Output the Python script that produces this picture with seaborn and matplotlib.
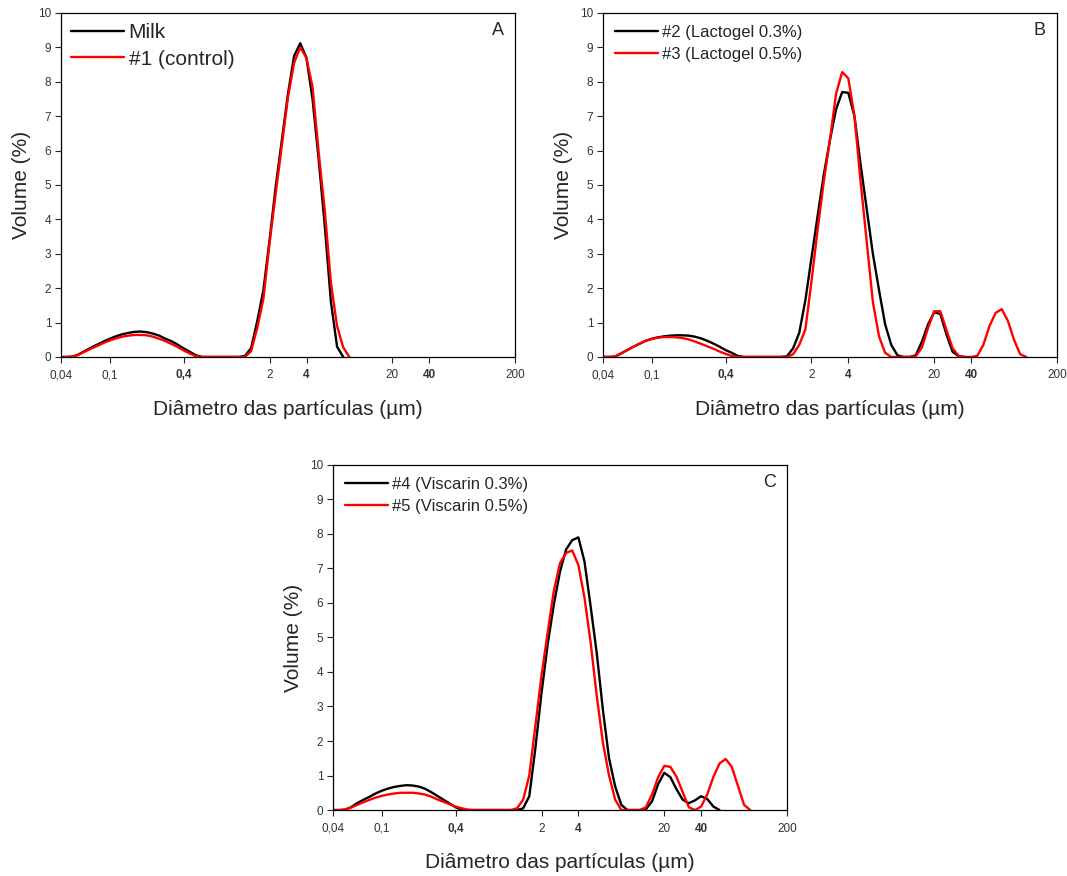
import matplotlib
matplotlib.use("Agg")
import matplotlib.pyplot as plt
import seaborn as sns
import pandas as pd
from matplotlib.ticker import NullLocator

sns.set_theme(style="ticks")
plt.rcParams["font.family"] = ["Liberation Sans", "DejaVu Sans"]

BLACK = "#000000"
RED = "#ff0000"

# instrument size classes (um)
DIAM = [0.040, 0.045, 0.050, 0.056, 0.063, 0.071, 0.080, 0.089, 0.100, 0.112,
        0.126, 0.142, 0.159, 0.178, 0.200, 0.224, 0.252, 0.283, 0.317, 0.356,
        0.399, 0.448, 0.502, 0.564, 0.632, 0.710, 0.796, 0.893, 1.002, 1.125,
        1.262, 1.416, 1.589, 1.783, 2.000, 2.244, 2.518, 2.825, 3.170, 3.557,
        3.991, 4.477, 5.024, 5.637, 6.325, 7.096, 7.962, 8.934, 10.024, 11.247,
        12.619, 14.159, 15.887, 17.825, 20.000, 22.440, 25.179, 28.251, 31.698, 35.566,
        39.905, 44.774, 50.238, 56.368, 63.246, 70.963, 79.621, 89.337, 100.237, 112.468]

# volume (%) per size class
MILK = [0, 0, 0.01, 0.08, 0.18, 0.28, 0.37, 0.45, 0.53, 0.60,
        0.66, 0.70, 0.73, 0.74, 0.72, 0.68, 0.62, 0.53, 0.46, 0.36,
        0.25, 0.15, 0.05, 0, 0, 0, 0, 0, 0, 0,
        0.03, 0.26, 1.05, 1.95, 3.40, 4.95, 6.30, 7.65, 8.75, 9.12,
        8.70, 7.50, 5.75, 3.80, 1.60, 0.30, 0]
CONTROL = [0, 0, 0.01, 0.07, 0.16, 0.25, 0.33, 0.41, 0.48, 0.54,
           0.59, 0.62, 0.64, 0.64, 0.63, 0.59, 0.53, 0.46, 0.38, 0.29,
           0.19, 0.10, 0.02, 0, 0, 0, 0, 0, 0, 0,
           0, 0.17, 0.85, 1.70, 3.30, 4.75, 6.15, 7.55, 8.55, 9.00,
           8.70, 7.85, 5.95, 4.25, 2.15, 0.90, 0.28, 0]
LACT_03 = [0, 0, 0.01, 0.10, 0.20, 0.30, 0.39, 0.47, 0.53, 0.57,
           0.60, 0.62, 0.63, 0.63, 0.62, 0.59, 0.54, 0.47, 0.39, 0.30,
           0.20, 0.12, 0.03, 0, 0, 0, 0, 0, 0, 0,
           0.02, 0.25, 0.70, 1.65, 2.88, 4.10, 5.30, 6.30, 7.20, 7.70,
           7.68, 7.00, 5.60, 4.30, 3.00, 1.95, 0.95, 0.35, 0.05, 0,
           0, 0.05, 0.45, 0.95, 1.30, 1.25, 0.65, 0.15, 0.02, 0]
LACT_05 = [0, 0, 0.01, 0.10, 0.20, 0.30, 0.39, 0.47, 0.52, 0.56,
           0.58, 0.58, 0.57, 0.55, 0.51, 0.45, 0.38, 0.31, 0.24, 0.16,
           0.09, 0.03, 0, 0, 0, 0, 0, 0, 0, 0,
           0, 0.08, 0.35, 0.80, 2.20, 3.70, 5.10, 6.30, 7.65, 8.28,
           8.10, 7.00, 5.10, 3.35, 1.60, 0.60, 0.12, 0, 0, 0,
           0, 0.02, 0.28, 0.85, 1.33, 1.33, 0.78, 0.25, 0.03, 0,
           0, 0.03, 0.35, 0.90, 1.28, 1.39, 1.05, 0.50, 0.08, 0]
VISC_03 = [0, 0, 0.01, 0.08, 0.20, 0.30, 0.39, 0.48, 0.56, 0.62,
           0.67, 0.70, 0.72, 0.71, 0.68, 0.62, 0.52, 0.41, 0.30, 0.19,
           0.08, 0.01, 0, 0, 0, 0, 0, 0, 0, 0,
           0, 0.05, 0.40, 1.80, 3.40, 4.80, 5.95, 6.90, 7.55, 7.82,
           7.90, 7.20, 5.90, 4.54, 2.90, 1.50, 0.68, 0.15, 0, 0,
           0, 0.02, 0.25, 0.75, 1.08, 0.95, 0.60, 0.30, 0.20, 0.28,
           0.40, 0.32, 0.10, 0]
VISC_05 = [0, 0, 0.01, 0.07, 0.15, 0.23, 0.30, 0.36, 0.41, 0.45,
           0.48, 0.50, 0.50, 0.50, 0.48, 0.45, 0.39, 0.31, 0.24, 0.17,
           0.10, 0.05, 0.01, 0, 0, 0, 0, 0, 0, 0,
           0.05, 0.30, 1.00, 2.45, 3.90, 5.15, 6.35, 7.15, 7.45, 7.52,
           7.10, 6.15, 4.85, 3.30, 1.95, 1.00, 0.30, 0, 0, 0,
           0, 0.08, 0.45, 0.95, 1.28, 1.25, 0.96, 0.52, 0.08, 0,
           0.10, 0.45, 0.96, 1.35, 1.48, 1.25, 0.70, 0.15, 0]

XTICKS = [0.04, 0.1, 0.4, 2, 4, 20, 40, 200]
XTICK_LABELS = ["0,04", "0,1", "0,4", "2", "4", "20", "40", "200"]
BOLD_TICKS = {"0,4", "4", "40"}

# letter, axes rect, series, legend options
PANELS = [
    ("A", [0.0572, 0.5925, 0.4255, 0.3927],
     [("Milk", MILK, BLACK), ("#1 (control)", CONTROL, RED)],
     dict(fontsize=15, handlelength=2.5, labelspacing=0.35, borderaxespad=0.1)),
    ("B", [0.5651, 0.5925, 0.4255, 0.3927],
     [("#2 (Lactogel 0.3%)", LACT_03, BLACK), ("#3 (Lactogel 0.5%)", LACT_05, RED)],
     dict(fontsize=12, handlelength=2.6, labelspacing=0.45, borderaxespad=0.3)),
    ("C", [0.3121, 0.0753, 0.4255, 0.3940],
     [("#4 (Viscarin 0.3%)", VISC_03, BLACK), ("#5 (Viscarin 0.5%)", VISC_05, RED)],
     dict(fontsize=12, handlelength=2.6, labelspacing=0.45, borderaxespad=0.3)),
]


def draw_panel(fig, letter, rect, series, leg_opts):
    ax = fig.add_axes(rect)
    for name, vol, color in series:
        df = pd.DataFrame({"diam": DIAM[:len(vol)], "vol": vol})
        sns.lineplot(data=df, x="diam", y="vol", ax=ax, color=color,
                     linewidth=1.7, label=name, estimator=None, sort=False)
    ax.set_xscale("log")
    ax.set_xlim(0.04, 200)
    ax.set_ylim(0, 10)
    ax.set_xticks(XTICKS)
    ax.set_xticklabels(XTICK_LABELS)
    ax.xaxis.set_minor_locator(NullLocator())
    ax.set_yticks(range(0, 11))
    for lab in ax.get_xticklabels():
        if lab.get_text() in BOLD_TICKS:
            lab.set_fontweight("bold")
    ax.tick_params(axis="both", direction="out", length=4, width=0.8,
                   labelsize=8.5, labelcolor="#333333", pad=3)
    ax.tick_params(axis="x", pad=5)
    for sp in ax.spines.values():
        sp.set_visible(True)
        sp.set_linewidth(0.9)
        sp.set_color("black")
    ax.set_xlabel("Diâmetro das partículas (µm)", fontsize=15, labelpad=13)
    ax.set_ylabel("Volume (%)", fontsize=15, labelpad=5)
    ax.text(0.975, 0.95, letter, transform=ax.transAxes, ha="right", va="center",
            fontsize=13)
    ax.legend(loc="upper left", frameon=False, handletextpad=0.25, **leg_opts)
    return ax


fig = plt.figure(figsize=(10.67, 8.76), dpi=100)
fig.patch.set_facecolor("white")
for letter, rect, series, leg_opts in PANELS:
    draw_panel(fig, letter, rect, series, leg_opts)

fig.savefig("out.png", dpi=100, facecolor="white")
